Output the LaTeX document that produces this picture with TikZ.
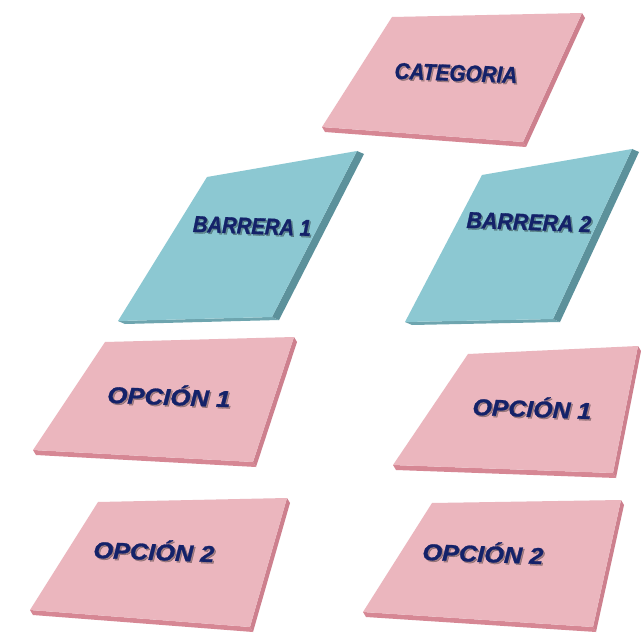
\documentclass[tikz,border=0pt]{standalone}
\usepackage{fontspec}
\setmainfont{Liberation Sans}
\newfontfamily\heavyfont[FakeBold=1.2]{Liberation Sans}
\usetikzlibrary{calc}
\definecolor{pinktop}{RGB}{235,182,190}
\definecolor{pinkfront}{RGB}{214,135,148}
\definecolor{pinkside}{RGB}{205,128,142}
\definecolor{bluetop}{RGB}{140,200,210}
\definecolor{bluefront}{RGB}{110,165,175}
\definecolor{blueside}{RGB}{92,145,155}
\definecolor{navy}{RGB}{20,34,105}
\tikzset{
  lbl/.style={font=\heavyfont\fontsize{23}{26}\selectfont\bfseries\itshape, text=navy, inner sep=0pt, rotate=-2},
  lblshadow/.style={lbl, text=black, opacity=0.3}
}
% #1 name, #2 TL, #3 TR, #4 BR, #5 BL, #6 top, #7 side, #8 front, #9 offset
\newcommand\slab[9]{%
  \coordinate (#1tl) at #2;
  \coordinate (#1tr) at #3;
  \coordinate (#1br) at #4;
  \coordinate (#1bl) at #5;
  \fill[#8] (#1bl) -- (#1br) -- ($(#1br)+#9$) -- ($(#1bl)+#9$) -- cycle;
  \fill[#7] (#1tr) -- ($(#1tr)+#9$) -- ($(#1br)+#9$) -- (#1br) -- cycle;
  \fill[#6] (#1tl) -- (#1tr) -- (#1br) -- (#1bl) -- cycle;
}
\newcommand\slabtext[4]{%
  \node[lblshadow,xscale=#4] at ($#2+(1.5,1.5)$) {#3};
  \node[lbl,xscale=#4] (#1) at #2 {#3};
}
\begin{document}
\begin{tikzpicture}[x=1pt,y=-1pt]
\useasboundingbox (0,0) rectangle (641,634);
\fill[white] (0,0) rectangle (641,634);

\slab{cat}{(392,17)}{(582,13)}{(523,142)}{(322,127)}{pinktop}{pinkside}{pinkfront}{(3,5)}
\slabtext{categoria}{(456,73)}{CATEGORIA}{0.9}

\slab{ba}{(207,177)}{(357,151)}{(272,317)}{(118,321)}{bluetop}{blueside}{bluefront}{(7,3)}
\slabtext{barrera1}{(252,226)}{BARRERA 1}{0.88}

\slab{bb}{(482,175)}{(632,149)}{(553,319)}{(405,322)}{bluetop}{blueside}{bluefront}{(7,3)}
\slabtext{barrera2}{(529,222)}{BARRERA 2}{0.93}

\slab{oa}{(105,342)}{(294,337)}{(253,462)}{(33,450)}{pinktop}{pinkside}{pinkfront}{(3,5)}
\slabtext{opcion1a}{(169,395)}{OPCIÓN 1}{1.12}

\slab{ob}{(468,354)}{(638,346)}{(613,473)}{(393,465)}{pinktop}{pinkside}{pinkfront}{(3,5)}
\slabtext{opcion1b}{(532,407)}{OPCIÓN 1}{1.08}

\slab{oc}{(98,502)}{(287,498)}{(250,627)}{(30,610)}{pinktop}{pinkside}{pinkfront}{(3,5)}
\slabtext{opcion2a}{(154,550)}{OPCIÓN 2}{1.1}

\slab{od}{(432,503)}{(621,500)}{(593,627)}{(363,612)}{pinktop}{pinkside}{pinkfront}{(3,5)}
\slabtext{opcion2b}{(483,552)}{OPCIÓN 2}{1.1}
\end{tikzpicture}
\end{document}
